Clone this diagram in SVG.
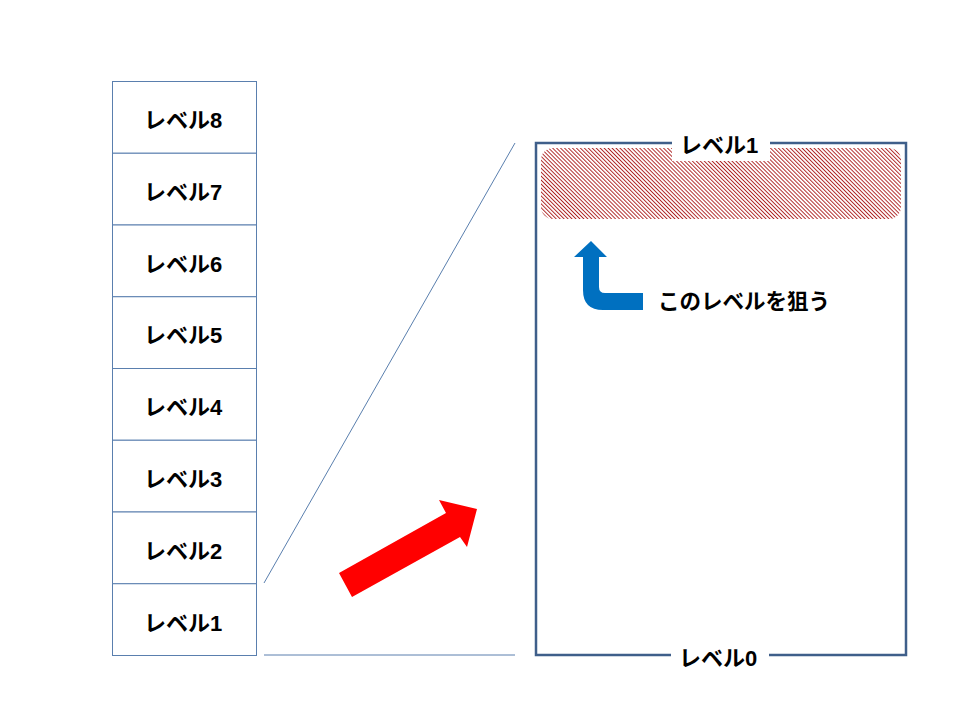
<svg xmlns="http://www.w3.org/2000/svg" width="960" height="720" viewBox="0 0 960 720">
<defs>
<style>
.cell{fill:#ffffff;stroke:#5a7fae;stroke-width:1}
.lbl{font-family:"Liberation Sans","Noto Sans CJK JP",sans-serif;font-weight:bold;font-size:22px;fill:#000;text-anchor:middle}
.guide{stroke:#5a7fae;stroke-width:1;fill:none}
</style>
<pattern id="hatch" patternUnits="userSpaceOnUse" width="2.8" height="2.8" patternTransform="rotate(-45)">
<rect width="2.8" height="2.8" fill="#ffffff"/>
<line x1="0.5" y1="0" x2="0.5" y2="2.8" stroke="#a81414" stroke-width="0.9"/>
</pattern>
</defs>
<rect width="960" height="720" fill="#ffffff"/>
<g id="stack">
<g id="level8"><rect class="cell" x="112.5" y="81.5" width="144" height="71.75"/><text class="lbl" x="183" y="128">レベル8</text></g>
<g id="level7"><rect class="cell" x="112.5" y="153.25" width="144" height="71.75"/><text class="lbl" x="183" y="200">レベル7</text></g>
<g id="level6"><rect class="cell" x="112.5" y="225" width="144" height="71.75"/><text class="lbl" x="183" y="272">レベル6</text></g>
<g id="level5"><rect class="cell" x="112.5" y="296.75" width="144" height="71.75"/><text class="lbl" x="183" y="343">レベル5</text></g>
<g id="level4"><rect class="cell" x="112.5" y="368.5" width="144" height="71.75"/><text class="lbl" x="183" y="415">レベル4</text></g>
<g id="level3"><rect class="cell" x="112.5" y="440.25" width="144" height="71.75"/><text class="lbl" x="183" y="487">レベル3</text></g>
<g id="level2"><rect class="cell" x="112.5" y="512" width="144" height="71.75"/><text class="lbl" x="183" y="559">レベル2</text></g>
<g id="level1"><rect class="cell" x="112.5" y="583.75" width="144" height="71.75"/><text class="lbl" x="183" y="631">レベル1</text></g>
</g>
<g id="connectors">
<line class="guide" x1="264" y1="583" x2="515" y2="143"/>
<line class="guide" x1="264" y1="655" x2="515" y2="655"/>
</g>
<g id="red-arrow">
<polygon points="339,573 446,513 439,500 477,509 467,547 460,537 352,597" fill="#ff0000"/>
</g>
<g id="zoom-box">
<rect x="536" y="143" width="370" height="512" fill="#ffffff" stroke="#3f5f8a" stroke-width="2.5"/>
<rect id="target-band" x="541" y="148" width="360" height="71" rx="12" ry="12" fill="url(#hatch)"/>
<rect x="672" y="130" width="98" height="31" fill="#ffffff"/>
<text class="lbl" x="719" y="153">レベル1</text>
<rect x="671" y="645" width="98" height="22" fill="#ffffff"/>
<text class="lbl" x="718" y="666">レベル0</text>
</g>
<g id="blue-arrow">
<path d="M591,241 L607,257 L599,257 L599,287 Q599,293 605,293 L643,293 L643,310 L603,310 Q583,310 583,290 L583,257 L574,257 Z" fill="#0070c0"/>
<text x="658" y="309" font-family="Liberation Sans,'Noto Sans CJK JP',sans-serif" font-weight="bold" font-size="21.5" fill="#000">このレベルを狙う</text>
</g>
</svg>
